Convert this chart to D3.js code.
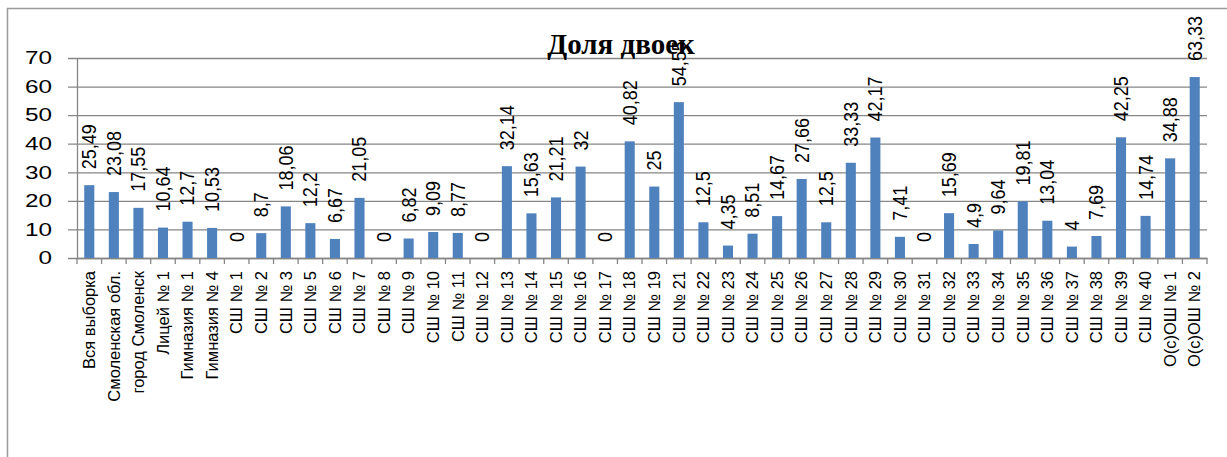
<!DOCTYPE html>
<html><head><meta charset="utf-8">
<script src="https://cdn.jsdelivr.net/npm/d3@7"></script>
<style>
html,body{margin:0;padding:0;background:#fff;}
svg{display:block;}
</style></head>
<body>
<svg id="chart" width="1227" height="457"></svg>
<script>
const title = "Доля двоек";
const categories = ["Вся выборка","Смоленская обл.","город Смоленск","Лицей № 1","Гимназия № 1","Гимназия № 4",
"СШ № 1","СШ № 2","СШ № 3","СШ № 5","СШ № 6","СШ № 7","СШ № 8","СШ № 9","СШ № 10","СШ № 11","СШ № 12",
"СШ № 13","СШ № 14","СШ № 15","СШ № 16","СШ № 17","СШ № 18","СШ № 19","СШ № 21","СШ № 22","СШ № 23",
"СШ № 24","СШ № 25","СШ № 26","СШ № 27","СШ № 28","СШ № 29","СШ № 30","СШ № 31","СШ № 32","СШ № 33",
"СШ № 34","СШ № 35","СШ № 36","СШ № 37","СШ № 38","СШ № 39","СШ № 40","О(с)ОШ № 1","О(с)ОШ № 2"];
const values = [25.49,23.08,17.55,10.64,12.7,10.53,0,8.7,18.06,12.2,6.67,21.05,0,6.82,9.09,8.77,0,
32.14,15.63,21.21,32,0,40.82,25,54.55,12.5,4.35,8.51,14.67,27.66,12.5,33.33,42.17,7.41,0,15.69,4.9,
9.64,19.81,13.04,4,7.69,42.25,14.74,34.88,63.33];
const yTicks = [0,10,20,30,40,50,60,70];

(function(){
const svg = d3.select("#chart");
const pLeft = 77, pRight = 1207, pTop = 58, pBottom = 258;
const x = d3.scaleBand().domain(categories).range([pLeft, pRight]).paddingInner(0.59).paddingOuter(0.295);
const y = d3.scaleLinear().domain([0, 70]).range([pBottom, pTop]);
const grid = "#868686";
const font = "Liberation Sans";

// outer border (cropped chart area)
svg.append("path").attr("d", `M7.5,457 V8.5 H1227`).attr("fill","none").attr("stroke","#9a9a9a").attr("stroke-width",1.5);

// gridlines + y axis
const yAxis = d3.axisLeft(y).tickValues(yTicks).tickFormat("").tickSizeInner(9).tickSizeOuter(0);
const gy = svg.append("g").attr("transform",`translate(${pLeft},0)`).call(yAxis);
gy.select(".domain").attr("stroke",grid).attr("stroke-width",1.3);
gy.selectAll(".tick line").attr("stroke",grid).attr("stroke-width",1.3).attr("x2",pRight-pLeft).attr("x1",-9);
svg.append("g").selectAll("text").data(yTicks).join("text")
  .attr("transform", d => `translate(52,${y(d)}) scale(1.35,1)`)
  .attr("dy","0.35em").attr("text-anchor","end")
  .attr("font-family",font).attr("font-size",18).attr("fill","#000")
  .text(d=>d);

// x axis
const xAxis = d3.axisBottom(x).tickSize(0).tickFormat("");
const gx = svg.append("g").attr("transform",`translate(0,${pBottom})`).call(xAxis);
gx.select(".domain").attr("stroke",grid).attr("stroke-width",1.3);
const step = x.step();
const x0 = x(categories[0]) - x.paddingOuter()*step;
gx.selectAll(".bound").data(d3.range(categories.length+1)).join("line")
  .attr("x1", i => x0 + i*step).attr("x2", i => x0 + i*step)
  .attr("y1",0).attr("y2",6).attr("stroke",grid).attr("stroke-width",1.3);

// category labels
svg.append("g").selectAll("text").data(categories).join("text")
  .attr("transform", d => `translate(${x(d)+x.bandwidth()/2},${pBottom+13}) rotate(-90)`)
  .attr("dy","0.35em").attr("text-anchor","end")
  .attr("font-family",font).attr("font-size",16.5).attr("fill","#000")
  .text(d=>d);

// bars
svg.append("g").selectAll("rect").data(values).join("rect")
  .attr("x",(d,i)=>x(categories[i])).attr("width",x.bandwidth())
  .attr("y",d=>y(d)).attr("height",d=>y(0)-y(d))
  .attr("fill","#4f81bd");

// data labels
svg.append("g").selectAll("text").data(values).join("text")
  .attr("transform",(d,i)=>`translate(${x(categories[i])+x.bandwidth()/2},${y(d)-16}) rotate(-90) scale(1,1.1)`)
  .attr("dy","0.35em").attr("text-anchor","start")
  .attr("font-family",font).attr("font-size",18).attr("fill","#000")
  .text(d=>String(d).replace(".",","));

// title
svg.append("text").attr("x",621).attr("y",54).attr("text-anchor","middle")
  .attr("font-family","Liberation Serif").attr("font-weight","bold").attr("font-size",29)
  .attr("fill","#000").text(title);
})();
</script>
</body></html>
